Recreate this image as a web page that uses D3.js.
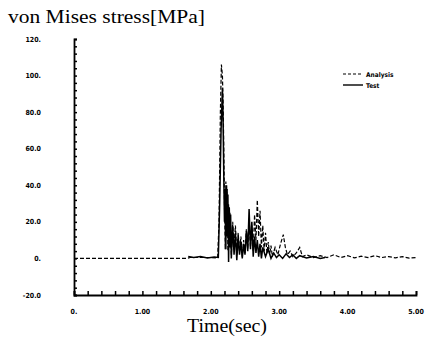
<!DOCTYPE html>
<html>
<head>
<meta charset="utf-8">
<script src="https://cdn.jsdelivr.net/npm/d3@7"></script>
<style>
  body { margin: 0; background: #fff; }
  svg { display: block; }
</style>
</head>
<body>
<div id="chart"></div>
<script>
// data
var analysisTime = [0, 1.65, 1.70, 2.00, 2.10, 2.12, 2.14, 2.155, 2.17, 2.18, 2.19, 2.20, 2.21, 2.22, 2.23, 2.24, 2.25, 2.26, 2.27, 2.28, 2.30, 2.32, 2.34, 2.36, 2.38, 2.40, 2.42, 2.44, 2.46, 2.48, 2.50, 2.52, 2.54, 2.56, 2.58, 2.60, 2.62, 2.64, 2.66, 2.68, 2.70, 2.72, 2.74, 2.76, 2.78, 2.80, 2.82, 2.84, 2.86, 2.88, 2.90, 2.94, 2.98, 3.02, 3.06, 3.09, 3.12, 3.16, 3.20, 3.25, 3.30, 3.34, 3.40, 3.50, 3.60, 3.70, 3.80, 3.90, 4.00, 4.10, 4.20, 4.30, 4.40, 4.50, 4.60, 4.70, 4.80, 4.90, 5.00];
var analysisStress = [0, 0, 0.5, 0.5, 0.3, 20, 80, 106, 100, 85, 60, 30, 5, 42, 15, 38, 4, 30, 8, 25, 2, 20, 6, 18, 2, 14, 4, 12, 1, 10, 3, 16, 5, 22, 6, 18, 4, 24, 10, 32, 12, 26, 6, 18, 4, 14, 3, 9, 2, 7, 1, 6, 2, 8, 13, 6, 2, 4, 1, 3, 6, 1, 2, 0.5, 1.5, 0.5, 2, 0.5, 1.5, 0.3, 1.2, 0.5, 1.5, 0.5, 1, 0.3, 1, 0.2, 0.5];

var testTime = [1.67, 1.75, 1.85, 1.95, 2.05, 2.11, 2.13, 2.15, 2.17, 2.18, 2.19, 2.20, 2.21, 2.22, 2.23, 2.24, 2.25, 2.26, 2.27, 2.28, 2.29, 2.30, 2.32, 2.34, 2.36, 2.38, 2.40, 2.42, 2.44, 2.46, 2.48, 2.50, 2.52, 2.54, 2.56, 2.58, 2.60, 2.62, 2.64, 2.66, 2.68, 2.70, 2.72, 2.74, 2.76, 2.80, 2.84, 2.88, 2.92, 2.96, 3.00, 3.05, 3.10, 3.15, 3.20, 3.25, 3.30, 3.40, 3.50, 3.60, 3.67];
var testStress = [1, 0.5, 1, 0.3, 0.8, 0.5, 30, 70, 93, 75, 45, 20, 38, 5, 40, 12, 35, -2, 28, 6, 24, 0, 18, 2, 14, -1, 12, 2, 9, 0, 8, 2, 15, 4, 27, 5, 20, 1, 12, 3, 10, 1, 8, 0, 6, 1, 5, 0, 3, 0.5, 2, 0, 2.5, 0.5, 2, 0, 1.5, 0.3, 1, 0, 0.5];

var xTicks = [0, 1, 2, 3, 4, 5];
var xTickLabels = ['0.', '1.00', '2.00', '3.00', '4.00', '5.00'];
var yTicks = [-20, 0, 20, 40, 60, 80, 100, 120];
var yTickLabels = ['-20.0', '0.', '20.0', '40.0', '60.0', '80.0', '100.', '120.'];
var seriesNames = ['Analysis', 'Test'];

var width = 425, height = 344;
var tickFont = 'DejaVu Sans Condensed, Liberation Sans, sans-serif';

var svg = d3.select('#chart').append('svg')
  .attr('width', width)
  .attr('height', height);

var x = d3.scaleLinear().domain([0, 5]).range([74, 416]);
var y = d3.scaleLinear().domain([-20, 120]).range([295, 39]);

// title + x label
svg.append('text')
  .attr('x', 8)
  .attr('y', 23)
  .attr('font-family', 'Liberation Serif, serif')
  .attr('font-size', '19px')
  .attr('textLength', 197)
  .attr('lengthAdjust', 'spacingAndGlyphs')
  .text('von Mises stress[MPa]');

svg.append('text')
  .attr('x', 227)
  .attr('y', 332)
  .attr('text-anchor', 'middle')
  .attr('font-family', 'Liberation Serif, serif')
  .attr('font-size', '19px')
  .attr('textLength', 80)
  .attr('lengthAdjust', 'spacingAndGlyphs')
  .text('Time(sec)');

// axes, ticks drawn inward
var xAxis = d3.axisTop(x)
  .tickValues(d3.range(0, 5.01, 0.2))
  .tickSize(4)
  .tickFormat('');
svg.append('g')
  .attr('transform', 'translate(0,' + y(-20) + ')')
  .call(xAxis)
  .call(function(g) {
    g.select('.domain').attr('stroke-width', 1.8);
    g.selectAll('.tick line').attr('stroke-width', 1.5);
  });

var yAxis = d3.axisRight(y)
  .tickValues(d3.range(-20, 120.1, 4))
  .tickSize(3)
  .tickFormat('');
svg.append('g')
  .attr('transform', 'translate(' + x(0) + ',0)')
  .call(yAxis)
  .call(function(g) {
    g.select('.domain').attr('stroke-width', 1.8);
    g.selectAll('.tick line').attr('stroke-width', 1.5);
  });

// tick labels
svg.selectAll('text.xlab')
  .data(xTicks)
  .enter()
  .append('text')
  .attr('class', 'xlab')
  .attr('x', function(d) { return x(d); })
  .attr('y', 314)
  .attr('text-anchor', 'middle')
  .attr('font-family', tickFont)
  .attr('font-weight', 'bold')
  .attr('font-size', '7px')
  .text(function(d, i) { return xTickLabels[i]; });

svg.selectAll('text.ylab')
  .data(yTicks)
  .enter()
  .append('text')
  .attr('class', 'ylab')
  .attr('x', 41)
  .attr('y', function(d) { return y(d) + 2.5; })
  .attr('text-anchor', 'end')
  .attr('font-family', tickFont)
  .attr('font-weight', 'bold')
  .attr('font-size', '7px')
  .text(function(d, i) { return yTickLabels[i]; });

// series
var line = d3.line()
  .x(function(d) { return x(d[0]); })
  .y(function(d) { return y(d[1]); });

svg.append('path')
  .datum(d3.zip(testTime, testStress))
  .attr('fill', 'none')
  .attr('stroke', '#000')
  .attr('stroke-width', 1.5)
  .attr('d', line);

svg.append('path')
  .datum(d3.zip(analysisTime, analysisStress))
  .attr('fill', 'none')
  .attr('stroke', '#000')
  .attr('stroke-width', 1.2)
  .attr('stroke-dasharray', '4,2')
  .attr('d', line);

// legend
var legend = svg.append('g').attr('transform', 'translate(343,74)');
seriesNames.forEach(function(name, i) {
  legend.append('line')
    .attr('x1', 0).attr('x2', 20)
    .attr('y1', i * 11).attr('y2', i * 11)
    .attr('stroke', '#000')
    .attr('stroke-width', i === 0 ? 1.1 : 1.4)
    .attr('stroke-dasharray', i === 0 ? '3,2' : null);
  legend.append('text')
    .attr('x', 23)
    .attr('y', i * 11 + 2.5)
    .attr('font-family', tickFont)
    .attr('font-weight', 'bold')
    .attr('font-size', '6.5px')
    .text(name);
});
</script>
</body>
</html>
